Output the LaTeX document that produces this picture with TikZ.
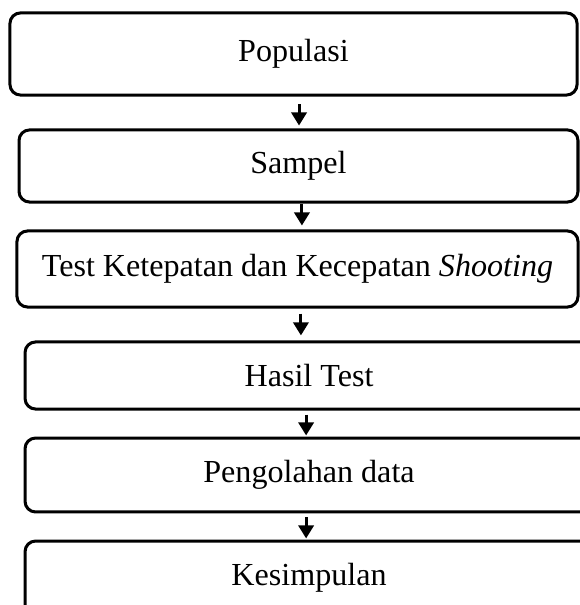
\documentclass[tikz,border=0pt]{standalone}
\usepackage{fontspec}
\setmainfont{Liberation Serif}
\usetikzlibrary{positioning}
\usetikzlibrary{arrows.meta}

\begin{document}
\begin{tikzpicture}[x=0.38pt,y=-0.38pt,
	stepbox/.style={rectangle, rounded corners=4pt, draw=black, line width=1.15pt, fill=white, font=\fontsize{12.2}{14}\selectfont, inner sep=0pt},
	flowarrow/.style={line width=1.15pt, -{Triangle[width=5.8pt,length=5pt]}}]
	\useasboundingbox (0,0) rectangle (579,605);
	\node[stepbox, minimum width=215.5pt, minimum height=31.2pt] (populasi) at (293.5,54) {Populasi};
	\node[stepbox, minimum width=212.4pt, minimum height=27.4pt] (sampel) at (298.5,166) {Sampel};
	\node[stepbox, minimum width=213.2pt, minimum height=28.9pt] (test) at (297.5,269) {Test Ketepatan dan Kecepatan \textit{Shooting}};
	\node[stepbox, minimum width=215.8pt, minimum height=25.5pt] (hasil) at (309,375.5) {Hasil Test};
	\node[stepbox, minimum width=215.8pt, minimum height=28.1pt] (olah) at (309,475) {Pengolahan data};
	\node[stepbox, minimum width=215.8pt, minimum height=28.1pt] (simpul) at (309,578) {Kesimpulan};
	\draw[flowarrow, shorten <=3pt, shorten >=1.1pt] ([xshift=2.1pt]populasi.south) -- ([xshift=2.1pt]populasi.south |- sampel.north);
	\draw[flowarrow, shorten >=1.5pt] ([xshift=1.3pt]sampel.south) -- ([xshift=1.3pt]sampel.south |- test.north);
	\draw[flowarrow, shorten <=1.9pt, shorten >=1.9pt] ([xshift=1.3pt]test.south) -- ([xshift=1.3pt]test.south |- hasil.north);
	\draw[flowarrow, shorten <=1.5pt, shorten >=0.4pt] ([xshift=-1.1pt]hasil.south) -- ([xshift=-1.1pt]hasil.south |- olah.north);
	\draw[flowarrow, shorten <=1.5pt, shorten >=0.4pt] ([xshift=-1.1pt]olah.south) -- ([xshift=-1.1pt]olah.south |- simpul.north);
\end{tikzpicture}
\end{document}
